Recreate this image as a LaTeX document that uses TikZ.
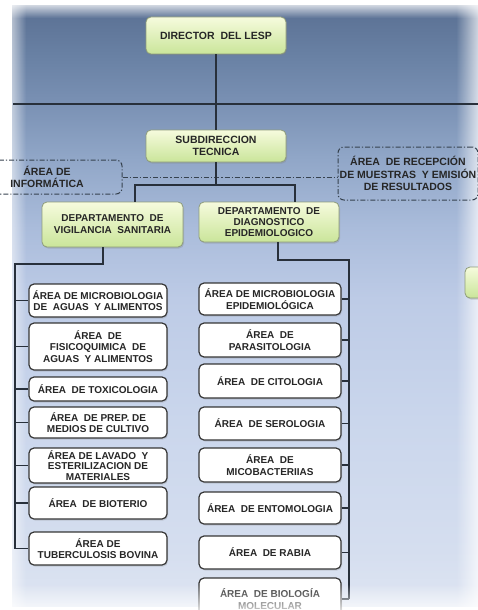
\documentclass[tikz,border=0pt]{standalone}
\usepackage{fontspec}
\setmainfont{Liberation Sans}
\usepackage{tikz}
\usetikzlibrary{
  positioning, calc, shadows, fadings
}
\definecolor{panelA}{HTML}{5A7093}
\definecolor{panelB}{HTML}{6981A4}
\definecolor{panelC}{HTML}{7990B3}
\definecolor{panelD}{HTML}{90A6C7}
\definecolor{panelE}{HTML}{AABCDB}
\definecolor{panelF}{HTML}{BDCBE6}
\definecolor{panelG}{HTML}{CAD6EC}
\definecolor{panelH}{HTML}{D5DEEF}
\definecolor{panelI}{HTML}{DEE5F2}
\definecolor{inkLine}{HTML}{28303B}
\definecolor{inkText}{HTML}{262626}
\definecolor{greenTop}{HTML}{F6FBDD}
\definecolor{greenBot}{HTML}{CAE59A}
\definecolor{greenEdge}{HTML}{8E9C7A}
\definecolor{boxEdge}{HTML}{363636}
\definecolor{staffEdge}{HTML}{36424F}
\pgfdeclareverticalshading{panelshade}{100bp}{
  color(0bp)=(panelI); color(25bp)=(panelI); color(29.6bp)=(panelH);
  color(40.5bp)=(panelG); color(50.6bp)=(panelF); color(56.5bp)=(panelE);
  color(62.4bp)=(panelD); color(67.1bp)=(panelC); color(70.8bp)=(panelB);
  color(75bp)=(panelA); color(100bp)=(panelA)}
\tikzfading[name=fadeleft, left color=transparent!0, right color=transparent!100]
\tikzfading[name=faderight, left color=transparent!100, right color=transparent!0]
\tikzfading[name=fadetop, top color=transparent!0, bottom color=transparent!100]
\tikzfading[name=fadebottom, top color=transparent!100, bottom color=transparent!0]
\tikzset{
  orgline/.style={inkLine, line width=1.35pt},
  staffline/.style={staffEdge, line width=1pt,
    dash pattern=on 5pt off 2pt on 1.2pt off 2pt},
  headbox/.style={rectangle, rounded corners=5pt, draw=greenEdge,
    line width=0.8pt, top color=greenTop, bottom color=greenBot,
    align=center, text=inkText, inner sep=1pt,
    font=\bfseries\fontsize{10.5}{12.5}\selectfont,
    drop shadow={shadow xshift=1pt, shadow yshift=-1.5pt, opacity=0.3}},
  areabox/.style={rectangle, rounded corners=5pt, draw=boxEdge,
    line width=1.2pt, fill=white, align=center, text=inkText,
    inner sep=1pt, font=\bfseries\fontsize{10}{11.5}\selectfont,
    drop shadow={shadow xshift=1pt, shadow yshift=-1.5pt, opacity=0.25}},
  staffbox/.style={rectangle, rounded corners=6pt, draw=staffEdge,
    line width=1pt, dash pattern=on 5pt off 2pt on 1.2pt off 2pt,
    align=center, text=inkText, inner sep=1pt,
    font=\bfseries\fontsize{10.5}{12.5}\selectfont},
}

\begin{document}
\begin{tikzpicture}[x=1pt, y=-1pt]
  \useasboundingbox (0,0) rectangle (478,610);
  \fill[white] (0,0) rectangle (478,610);
  \shade[shading=panelshade] (12,6) rectangle (478,606);
  \fill[white, path fading=fadeleft] (0,0) rectangle (26,610);
  \fill[white, path fading=fadetop] (0,0) rectangle (478,18);
  \fill[white, opacity=0.7, path fading=faderight] (456,0) rectangle (478,610);

  % top of the chart
  \node[headbox, minimum width=140pt, minimum height=37pt] (dir)
    at (216,35.5) {DIRECTOR\ \ DEL\ LESP};
  \node[headbox, minimum width=140pt, minimum height=32pt] (subdir)
    at (216,146) {SUBDIRECCION\\TECNICA};
  \node[staffbox, minimum width=150pt, minimum height=34pt] (info)
    at (47,177) {ÁREA DE\\INFORMÁTICA};
  \node[staffbox, minimum width=140pt, minimum height=53pt] (recep)
    at (408,173.5) {ÁREA\ \ DE RECEPCIÓN\\DE MUESTRAS\ \ Y EMISIÓN\\DE RESULTADOS};
  \node[headbox, minimum width=141pt, minimum height=45pt,
    font=\bfseries\fontsize{10}{12}\selectfont] (vigil)
    at (112.5,224.5) {DEPARTAMENTO\ \ DE\\VIGILANCIA\ \ SANITARIA};
  \node[headbox, minimum width=140pt, minimum height=40pt,
    font=\bfseries\fontsize{10}{11}\selectfont] (diagn)
    at (269,222) {DEPARTAMENTO\ \ DE\\DIAGNOSTICO\\EPIDEMIOLOGICO};
  \node[headbox, minimum width=40pt, minimum height=31pt] (side)
    at (485,282.5) {};

  \coordinate (lineL) at (13,104);
  \coordinate (lineR) at (478,104);
  \coordinate (bus) at (216,185);
  \draw[orgline] (lineL) -- (lineR);
  \draw[orgline] (dir) -- (subdir);
  \draw[staffline] (info.east) -- (info.east -| recep.west);
  \draw[orgline] (subdir) -- (bus);
  \draw[orgline] ([xshift=22.5pt]vigil.north) |- (bus)
    -| ([xshift=26pt]diagn.north);

  % vigilancia sanitaria
  \node[areabox, minimum width=138pt, minimum height=33pt] (micA)
    at (98,300.5) {ÁREA DE MICROBIOLOGIA\\DE\ \ AGUAS\ \ Y ALIMENTOS};
  \node[areabox, minimum width=138pt, minimum height=47pt] (fisq)
    at (98,346.5) {ÁREA\ \ DE\\FISICOQUIMICA\ \ DE\\AGUAS\ \ Y ALIMENTOS};
  \node[areabox, minimum width=138pt, minimum height=24pt] (toxi)
    at (98,389) {ÁREA\ \ DE TOXICOLOGIA};
  \node[areabox, minimum width=138pt, minimum height=31pt] (prep)
    at (98,422.5) {ÁREA\ \ DE PREP. DE\\MEDIOS DE CULTIVO};
  \node[areabox, minimum width=138pt, minimum height=35pt,
    font=\bfseries\fontsize{10}{10.5}\selectfont] (lava)
    at (98,465.5) {ÁREA DE LAVADO\ \ Y\\ESTERILIZACION DE\\MATERIALES};
  \node[areabox, minimum width=138pt, minimum height=32pt] (biot)
    at (98,503) {ÁREA\ \ DE BIOTERIO};
  \node[areabox, minimum width=138pt, minimum height=33pt] (tube)
    at (98,548.5) {ÁREA DE\\TUBERCULOSIS BOVINA};

  \coordinate (vtop) at (15,264);
  \draw[orgline] ([xshift=-9.5pt]vigil.south) |- (vtop) -- (vtop |- tube.west);
  \foreach \n in {micA, fisq, toxi, prep, lava, biot, tube}
    \draw[orgline] (vtop |- \n.west) -- (\n.west);

  % diagnostico epidemiologico
  \node[areabox, minimum width=142pt, minimum height=32pt] (micE)
    at (270,299) {ÁREA DE MICROBIOLOGIA\\EPIDEMIOLÓGICA};
  \node[areabox, minimum width=142pt, minimum height=34pt] (para)
    at (270,340) {ÁREA\ \ DE\\PARASITOLOGIA};
  \node[areabox, minimum width=142pt, minimum height=34pt] (cito)
    at (270,381) {ÁREA\ \ DE CITOLOGIA};
  \node[areabox, minimum width=142pt, minimum height=33pt] (sero)
    at (270,423.5) {ÁREA\ \ DE SEROLOGIA};
  \node[areabox, minimum width=142pt, minimum height=34pt] (mico)
    at (270,465) {ÁREA\ \ DE\\MICOBACTERIIAS};
  \node[areabox, minimum width=142pt, minimum height=32pt] (ento)
    at (270,508) {ÁREA\ \ DE ENTOMOLOGIA};
  \node[areabox, minimum width=142pt, minimum height=33pt] (rabi)
    at (270,552.5) {ÁREA\ \ DE RABIA};
  \node[areabox, minimum width=142pt, minimum height=42pt] (mole)
    at (270,599) {ÁREA\ \ DE BIOLOGÍA\\MOLECULAR};

  \coordinate (dtop) at (349,260);
  \draw[orgline] ([xshift=9pt]diagn.south) |- (dtop) -- (dtop |- mole.east);
  \foreach \n in {micE, para, cito, sero, mico, ento, rabi, mole}
    \draw[orgline] (\n.east) -- (dtop |- \n.east);

  \fill[white, opacity=0.75, path fading=fadebottom] (0,584) rectangle (478,610);
\end{tikzpicture}
\end{document}
